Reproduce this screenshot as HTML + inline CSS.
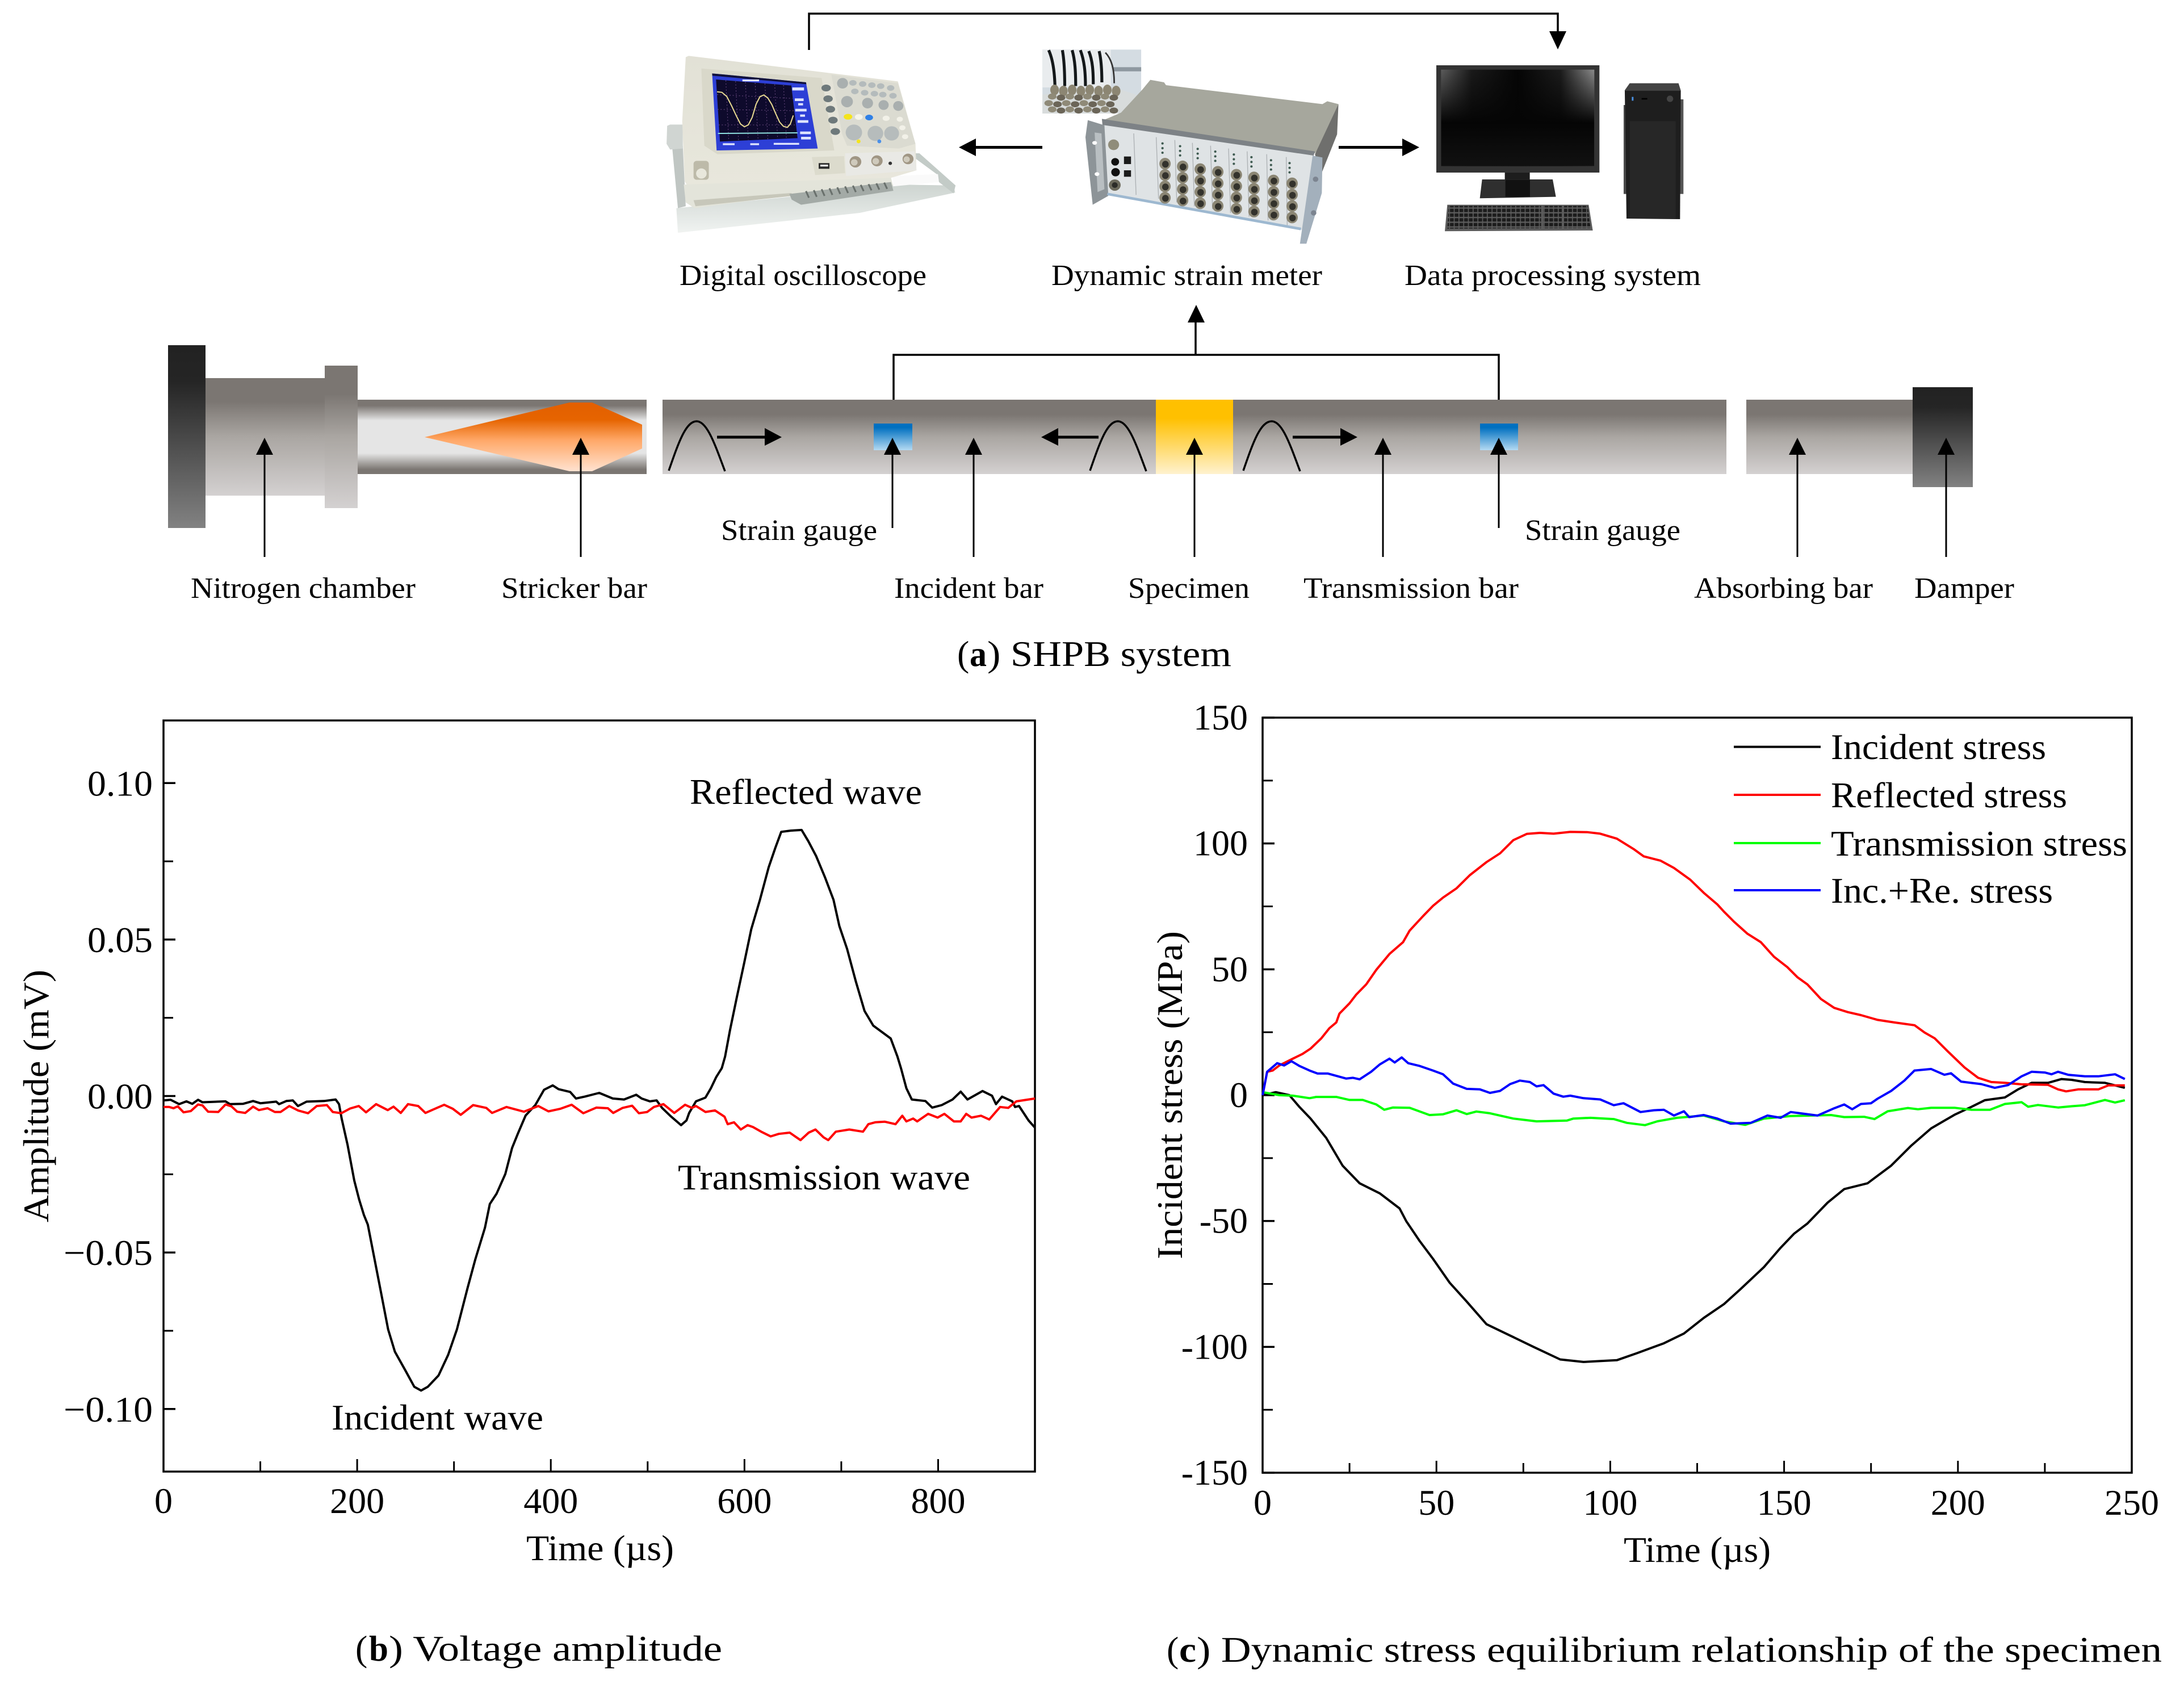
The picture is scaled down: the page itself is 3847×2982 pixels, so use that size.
<!DOCTYPE html>
<html lang="en">
<head>
<meta charset="utf-8">
<title>SHPB system, voltage amplitude and dynamic stress equilibrium</title>
<style>
html,body{margin:0;padding:0;background:#fff;}
svg{display:block;}
text{font-family:"Liberation Serif","Times New Roman",serif;fill:#000;}
.sm{font-size:52px;}
.lg{font-size:64px;}
</style>
</head>
<body>
<svg id="figure" xmlns="http://www.w3.org/2000/svg" width="3847" height="2982" viewBox="0 0 3847 2982">
<defs>
<linearGradient id="barG" x1="0" y1="0" x2="0" y2="1"><stop offset="0" stop-color="#7b7672"/><stop offset=".2" stop-color="#7b7672"/><stop offset=".5" stop-color="#aaa6a2"/><stop offset="1" stop-color="#d4d1d1"/></linearGradient>
<linearGradient id="tubeG" x1="0" y1="0" x2="0" y2="1"><stop offset="0" stop-color="#7b7672"/><stop offset=".08" stop-color="#7b7672"/><stop offset=".28" stop-color="#e5e5e5"/><stop offset=".72" stop-color="#e5e5e5"/><stop offset=".94" stop-color="#7b7672"/><stop offset="1" stop-color="#7b7672"/></linearGradient>
<linearGradient id="darkG" x1="0" y1="0" x2="0" y2="1"><stop offset="0" stop-color="#222"/><stop offset=".2" stop-color="#252525"/><stop offset="1" stop-color="#828282"/></linearGradient>
<linearGradient id="orangeG" x1="0" y1="0" x2="0" y2="1"><stop offset="0" stop-color="#e35f00"/><stop offset=".25" stop-color="#e66400"/><stop offset=".55" stop-color="#ffa868"/><stop offset="1" stop-color="#ffe2d0"/></linearGradient>
<linearGradient id="specG" x1="0" y1="0" x2="0" y2="1"><stop offset="0" stop-color="#ffc000"/><stop offset=".25" stop-color="#ffc000"/><stop offset="1" stop-color="#fff2cf"/></linearGradient>
<linearGradient id="gaugeG" x1="0" y1="0" x2="0" y2="1"><stop offset="0" stop-color="#0070c0"/><stop offset=".15" stop-color="#0070c0"/><stop offset="1" stop-color="#b4daf2"/></linearGradient>
<linearGradient id="screenG" x1="0" y1="0" x2="1" y2="0"><stop offset="0" stop-color="#5c5c5c"/><stop offset=".2" stop-color="#1a1a1a"/><stop offset=".5" stop-color="#050505"/><stop offset=".78" stop-color="#1c1c1c"/><stop offset="1" stop-color="#8a8a8a"/></linearGradient>
<linearGradient id="screenFade" x1="0" y1="0" x2="0" y2="1"><stop offset="0" stop-color="#050505" stop-opacity="0"/><stop offset=".55" stop-color="#050505" stop-opacity="1"/><stop offset="1" stop-color="#111" stop-opacity="1"/></linearGradient>
<linearGradient id="trayG" x1="0" y1="0" x2="0" y2="1"><stop offset="0" stop-color="#cdd4d0"/><stop offset="1" stop-color="#f0f3f1"/></linearGradient>
<linearGradient id="bodyG" x1="0" y1="0" x2="0" y2="1"><stop offset="0" stop-color="#e2e1d6"/><stop offset="1" stop-color="#e8e7dc"/></linearGradient>
<pattern id="keysP" width="25" height="25" patternUnits="userSpaceOnUse"><rect width="25" height="25" fill="#5a5a5a"/><rect x="2" y="3" width="20" height="18" rx="3" fill="#1c1c1c"/></pattern>
</defs>

<!-- Oscilloscope -->
<g transform="translate(1170,80) scale(0.3444,0.3333)">
  <polygon points="70,990 62,860 640,800 1170,735 1480,740 1488,778 1000,885" fill="url(#trayG)"/>
  <polygon points="1285,570 1305,570 1490,740 1480,782 1405,722 1400,685 1288,600" fill="#c3cbc7"/>
  <polygon points="1170,690 1400,680 1405,722 1170,745" fill="#fafafa"/>
  <polygon points="40,530 95,530 110,850 70,860" fill="#c0c6c3"/>
  <polygon points="15,425 30,418 95,418 95,545 30,550 12,520" fill="#d0d5d2"/>
  <polygon points="110,62 125,55 1195,190 1285,520 1290,660 1160,700 1100,722 122,745 105,720 92,400" fill="url(#bodyG)"/>
  <polygon points="100,735 1160,700 1170,740 660,790 155,860 110,830" fill="#e3e4da"/>
  <polygon points="150,818 650,780 660,795 160,850" fill="#c7c7ba"/>
  <polygon points="190,122 805,172 870,555 272,575 205,530" fill="#d9d8ca"/>
  <polygon points="245,148 725,195 785,545 268,555" fill="#2d3fd6"/>
  <polygon points="245,148 725,195 727,205 246,160" fill="#11113a"/>
  <polygon points="265,180 650,212 682,490 285,508" fill="#0e0a2c"/>
  <g stroke="#6a4a80" stroke-width="3" fill="none" stroke-dasharray="6 10">
    <line x1="315" y1="185" x2="330" y2="505"/><line x1="365" y1="190" x2="380" y2="503"/><line x1="415" y1="194" x2="430" y2="500"/><line x1="465" y1="198" x2="480" y2="498"/><line x1="515" y1="202" x2="530" y2="496"/><line x1="565" y1="206" x2="580" y2="494"/><line x1="610" y1="210" x2="625" y2="492"/>
    <line x1="270" y1="260" x2="655" y2="280"/><line x1="272" y1="338" x2="662" y2="345"/><line x1="278" y1="420" x2="672" y2="420"/>
  </g>
  <polyline points="270,245 295,248 320,270 345,320 370,375 390,415 410,430 430,420 450,380 470,310 490,270 510,262 530,278 550,312 570,360 590,405 610,428 630,433 645,415 660,370" fill="none" stroke="#e6d890" stroke-width="6"/>
  <line x1="275" y1="465" x2="682" y2="462" stroke="#8fe2e0" stroke-width="6"/>
  <g fill="#dfe4ff"><rect x="655" y="222" width="60" height="16"/><rect x="668" y="280" width="45" height="14"/><rect x="685" y="305" width="25" height="12"/><rect x="670" y="335" width="58" height="14"/><rect x="695" y="365" width="25" height="12"/><rect x="682" y="395" width="55" height="14"/><rect x="695" y="455" width="55" height="14"/><rect x="700" y="483" width="50" height="14"/><rect x="400" y="180" width="85" height="10"/><rect x="300" y="517" width="60" height="10"/><rect x="440" y="517" width="45" height="10"/><rect x="560" y="515" width="130" height="10"/></g>
  <polygon points="855,155 1195,200 1285,520 1200,545 935,530 910,470" fill="#dbdbd1"/>
  <g fill="#b4bbbc"><ellipse cx="965" cy="198" rx="19" ry="15"/><ellipse cx="1015" cy="204" rx="19" ry="15"/><ellipse cx="1062" cy="210" rx="19" ry="15"/><ellipse cx="1107" cy="215" rx="19" ry="15"/><ellipse cx="1158" cy="225" rx="19" ry="15"/><ellipse cx="975" cy="243" rx="19" ry="15"/><ellipse cx="1025" cy="250" rx="19" ry="15"/><ellipse cx="1075" cy="255" rx="19" ry="15"/><ellipse cx="1118" cy="260" rx="19" ry="15"/><ellipse cx="1170" cy="266" rx="19" ry="15"/></g>
  <g fill="#a9afaf"><circle cx="912" cy="200" r="28"/><circle cx="935" cy="297" r="30"/><circle cx="1040" cy="305" r="28"/><circle cx="1122" cy="315" r="26"/><circle cx="1197" cy="320" r="26"/></g>
  <g fill="#b6bcbc"><circle cx="970" cy="460" r="42"/><circle cx="1080" cy="465" r="40"/><circle cx="1163" cy="465" r="38"/></g>
  <ellipse cx="940" cy="377" rx="22" ry="15" fill="#f4e41c"/>
  <ellipse cx="995" cy="378" rx="20" ry="15" fill="#f5f4ea"/>
  <ellipse cx="1048" cy="381" rx="20" ry="15" fill="#2f80e6"/>
  <g fill="#f2f1e8"><ellipse cx="1135" cy="385" rx="18" ry="14"/><ellipse cx="1205" cy="390" rx="16" ry="13"/><ellipse cx="1218" cy="435" rx="16" ry="13"/><ellipse cx="1232" cy="482" rx="16" ry="13"/></g>
  <circle cx="994" cy="507" r="10" fill="#f4e41c"/><circle cx="1100" cy="507" r="10" fill="#4a90e8"/>
  <g fill="#6e797b"><ellipse cx="828" cy="225" rx="24" ry="18"/><ellipse cx="838" cy="282" rx="24" ry="18"/><ellipse cx="850" cy="337" rx="24" ry="18"/><ellipse cx="863" cy="395" rx="24" ry="18"/><ellipse cx="875" cy="455" rx="24" ry="18"/></g>
  <polygon points="925,570 1280,560 1290,660 930,690" fill="#e9e9e5"/>
  <polygon points="755,590 920,585 925,675 772,685" fill="#dcdbcd"/>
  <rect x="790" y="622" width="55" height="30" fill="#2a2a2a"/><rect x="798" y="630" width="40" height="10" fill="#eee"/>
  <g fill="#a09684"><circle cx="978" cy="615" r="30"/><circle cx="1088" cy="610" r="29"/><circle cx="1247" cy="600" r="28"/></g>
  <g fill="#cfcabc"><circle cx="972" cy="618" r="17"/><circle cx="1082" cy="612" r="17"/><circle cx="1240" cy="602" r="16"/></g>
  <circle cx="1156" cy="623" r="9" fill="#333"/>
  <rect x="150" y="610" width="78" height="100" rx="16" fill="#bdbaa9"/><circle cx="190" cy="677" r="27" fill="#e8e7dc"/>
  <polygon points="640,785 1160,722 1172,768 700,842 652,815" fill="#a3aaa6"/>
  <g stroke="#69706c" stroke-width="9">
    <line x1="725" y1="770" x2="740" y2="805"/><line x1="765" y1="765" x2="780" y2="800"/><line x1="805" y1="760" x2="820" y2="795"/><line x1="845" y1="755" x2="860" y2="790"/><line x1="885" y1="750" x2="900" y2="785"/><line x1="925" y1="745" x2="940" y2="780"/><line x1="965" y1="741" x2="980" y2="775"/><line x1="1005" y1="737" x2="1020" y2="770"/><line x1="1045" y1="733" x2="1060" y2="766"/><line x1="1085" y1="729" x2="1100" y2="762"/><line x1="1125" y1="725" x2="1140" y2="758"/>
  </g>
</g>

<!-- Dynamic strain meter -->
<g transform="translate(1830,70) scale(0.3444,0.3333)">
  <g>
    <rect x="18" y="52" width="505" height="338" fill="#d4dce2"/>
    <rect x="18" y="52" width="350" height="200" fill="#e9ecee"/>
    <rect x="380" y="145" width="143" height="22" fill="#8e98a0"/>
    <g fill="none" stroke="#14181a" stroke-width="15">
      <path d="M50,55 C70,100 80,170 82,245"/><path d="M120,55 C130,110 132,170 132,245"/><path d="M170,55 C185,110 188,170 188,245"/><path d="M212,55 C232,110 238,170 238,245"/><path d="M255,60 C275,110 278,170 278,235"/><path d="M308,60 C320,110 322,170 322,225"/>
    </g>
    <path d="M340,68 C370,100 385,150 385,230" fill="none" stroke="#333" stroke-width="8"/>
    <polygon points="18,290 380,250 523,300 523,390 18,390" fill="#d8dcdc"/>
    <g id="inset-connectors"></g>
  </g>
  <polygon points="330,425 420,385 530,262 570,212 640,225 650,240 1450,340 1475,325 1532,340 1505,470 1412,600" fill="#a6a79d"/>
  <polygon points="1412,605 1532,340 1525,500 1440,720" fill="#6f6f6d"/>
  <polygon points="325,440 1405,605 1372,1010 350,820" fill="#dfe3e5"/>
  <polygon points="322,418 1412,590 1405,612 325,450" fill="#7d8286"/>
  <polygon points="250,425 335,452 355,825 275,872 238,515" fill="#8d9498"/>
  <polygon points="285,490 320,495 335,790 300,805" fill="#b9bfc2"/>
  <ellipse cx="285" cy="545" rx="12" ry="10" fill="#fff"/><ellipse cx="297" cy="710" rx="12" ry="10" fill="#fff"/>
  <polygon points="1400,612 1450,622 1447,810 1368,1078 1335,1078" fill="#a3b0bc"/>
  <circle cx="1415" cy="737" r="14" fill="#7c8490"/><circle cx="1405" cy="915" r="14" fill="#7c8490"/>
  <line x1="350" y1="815" x2="1340" y2="1000" stroke="#9db8d0" stroke-width="14"/>
  <g stroke="#aeb2b5" stroke-width="4">
    <line x1="485" y1="495" x2="497" y2="820"/><line x1="600" y1="515" x2="612" y2="840"/><line x1="695" y1="530" x2="705" y2="860"/><line x1="785" y1="545" x2="795" y2="880"/><line x1="878" y1="560" x2="888" y2="895"/><line x1="970" y1="575" x2="980" y2="915"/><line x1="1065" y1="590" x2="1075" y2="935"/><line x1="1165" y1="605" x2="1172" y2="955"/><line x1="1265" y1="620" x2="1270" y2="980"/>
  </g>
  <circle cx="382" cy="555" r="28" fill="#8f8c7a"/>
  <circle cx="390" cy="645" r="20" fill="#111"/><circle cx="392" cy="700" r="22" fill="#111"/>
  <rect x="435" y="617" width="36" height="40" fill="#1b1b1b"/><rect x="435" y="690" width="36" height="34" fill="#1b1b1b"/>
  <circle cx="388" cy="768" r="30" fill="#6c6a5c"/><circle cx="388" cy="768" r="15" fill="#2c2c28"/>
  <g id="connector-grid"></g>
</g>

<!-- Computer -->
<g transform="translate(2520,100) scale(0.3333)">
  <rect x="30" y="45" width="862" height="567" fill="#333"/>
  <rect x="55" y="68" width="810" height="510" fill="url(#screenG)"/>
  <rect x="55" y="68" width="810" height="510" fill="url(#screenFade)"/>
  <rect x="392" y="612" width="132" height="50" fill="#1d1d1d"/>
  <polygon points="272,648 645,648 662,740 260,748" fill="#2f2f2f"/>
  <rect x="395" y="650" width="130" height="90" fill="#111"/>
  <polygon points="88,782 835,782 857,918 75,922" fill="#5c5c5c"/>
  <polygon points="95,788 830,788 845,905 88,908" fill="url(#keysP)"/>
  <rect x="584" y="786" width="12" height="122" fill="#5c5c5c"/><rect x="693" y="786" width="12" height="122" fill="#5c5c5c"/>
  <polygon points="1025,178 1052,140 1310,140 1322,178" fill="#444"/>
  <rect x="1020" y="255" width="22" height="470" fill="#4a4a4a"/><rect x="1318" y="225" width="18" height="500" fill="#555"/>
  <polygon points="1026,178 1322,178 1318,858 1035,855" fill="#1e1e1e"/>
  <rect x="1052" y="340" width="243" height="515" fill="#272727"/>
  <rect x="1063" y="212" width="9" height="20" fill="#4a90e0"/>
  <rect x="1115" y="218" width="30" height="8" fill="#000"/><circle cx="1265" cy="222" r="17" fill="#444"/>
</g>

<!-- Top signal path -->
<g fill="none" stroke="#000" stroke-width="3.5">
  <polyline points="1425,88 1425,24 2744,24 2744,60"/>
  <polyline points="1574,746 1574,625 2640,625 2640,746"/>
  <line x1="2106" y1="625" x2="2106" y2="560"/>
</g>
<polygon points="2729,55 2759,55 2744,87"/>
<polygon points="2092,568 2122,568 2107,537"/>
<g><line x1="1715" y1="259.5" x2="1836" y2="259.5" stroke="#000" stroke-width="5"/><polygon points="1689,259.5 1719,244 1719,275"/></g>
<g><line x1="2358" y1="259.5" x2="2475" y2="259.5" stroke="#000" stroke-width="5"/><polygon points="2500,259.5 2470,244 2470,275"/></g>

<!-- SHPB apparatus -->
<rect x="629" y="704" width="510" height="131" fill="url(#tubeG)"/>
<polygon points="748,770 1003,709 1043,709 1131,748 1131,790 1043,830 1003,830" fill="url(#orangeG)"/>
<rect x="362" y="666" width="211" height="207" fill="url(#barG)"/>
<rect x="572" y="644" width="58" height="251" fill="url(#barG)"/>
<rect x="296" y="608" width="66" height="322" fill="url(#darkG)"/>
<rect x="1167" y="704" width="870" height="131" fill="url(#barG)"/>
<rect x="2172" y="704" width="869" height="131" fill="url(#barG)"/>
<rect x="2036" y="704" width="136" height="131" fill="url(#specG)"/>
<rect x="3076" y="704" width="294" height="131" fill="url(#barG)"/>
<rect x="3369" y="682" width="106" height="176" fill="url(#darkG)"/>
<rect x="1539" y="746" width="68" height="47" fill="url(#gaugeG)"/>
<rect x="2607" y="746" width="67" height="47" fill="url(#gaugeG)"/>

<g fill="none" stroke="#000" stroke-width="3.5">
  <path d="M1178,829 C1195,780 1208,742 1227,742 C1246,742 1260,785 1277,830"/>
  <path d="M1920,829 C1937,780 1950,742 1969,742 C1988,742 2002,785 2019,830"/>
  <path d="M2190,829 C2207,780 2220,742 2240,742 C2259,742 2273,785 2290,830"/>
</g>
<g>
  <line x1="1263" y1="770" x2="1350" y2="770" stroke="#000" stroke-width="5"/><polygon points="1377,770 1347,754 1347,785"/>
  <line x1="1860" y1="770" x2="1935" y2="770" stroke="#000" stroke-width="5"/><polygon points="1834,770 1864,754 1864,785"/>
  <line x1="2277" y1="770" x2="2365" y2="770" stroke="#000" stroke-width="5"/><polygon points="2391,770 2361,754 2361,785"/>
</g>
<g stroke="#000" stroke-width="3">
  <g><line x1="466" y1="795" x2="466" y2="981"/><polygon stroke="none" points="466,771 451,801 481,801"/></g>
  <g><line x1="1023" y1="795" x2="1023" y2="981"/><polygon stroke="none" points="1023,771 1008,801 1038,801"/></g>
  <g><line x1="1572" y1="795" x2="1572" y2="930"/><polygon stroke="none" points="1572,771 1557,801 1587,801"/></g>
  <g><line x1="1715" y1="795" x2="1715" y2="981"/><polygon stroke="none" points="1715,771 1700,801 1730,801"/></g>
  <g><line x1="2104" y1="795" x2="2104" y2="981"/><polygon stroke="none" points="2104,771 2089,801 2119,801"/></g>
  <g><line x1="2436" y1="795" x2="2436" y2="981"/><polygon stroke="none" points="2436,771 2421,801 2451,801"/></g>
  <g><line x1="2640" y1="795" x2="2640" y2="930"/><polygon stroke="none" points="2640,771 2625,801 2655,801"/></g>
  <g><line x1="3166" y1="795" x2="3166" y2="981"/><polygon stroke="none" points="3166,771 3151,801 3181,801"/></g>
  <g><line x1="3428" y1="795" x2="3428" y2="981"/><polygon stroke="none" points="3428,771 3413,801 3443,801"/></g>
</g>

<!-- Top labels -->
<text class="sm" x="1197" y="502" textLength="435" lengthAdjust="spacingAndGlyphs">Digital oscilloscope</text>
<text class="sm" x="1852" y="502" textLength="477" lengthAdjust="spacingAndGlyphs">Dynamic strain meter</text>
<text class="sm" x="2474" y="502" textLength="522" lengthAdjust="spacingAndGlyphs">Data processing system</text>
<text class="sm" x="1270" y="951" textLength="275" lengthAdjust="spacingAndGlyphs">Strain gauge</text>
<text class="sm" x="2686" y="951" textLength="274" lengthAdjust="spacingAndGlyphs">Strain gauge</text>
<text class="sm" x="336" y="1053" textLength="396" lengthAdjust="spacingAndGlyphs">Nitrogen chamber</text>
<text class="sm" x="883" y="1053" textLength="257" lengthAdjust="spacingAndGlyphs">Stricker bar</text>
<text class="sm" x="1575" y="1053" textLength="263" lengthAdjust="spacingAndGlyphs">Incident bar</text>
<text class="sm" x="1987" y="1053" textLength="214" lengthAdjust="spacingAndGlyphs">Specimen</text>
<text class="sm" x="2296" y="1053" textLength="379" lengthAdjust="spacingAndGlyphs">Transmission bar</text>
<text class="sm" x="2984" y="1053" textLength="315" lengthAdjust="spacingAndGlyphs">Absorbing bar</text>
<text class="sm" x="3372" y="1053" textLength="176" lengthAdjust="spacingAndGlyphs">Damper</text>
<g>
  <text class="lg" x="1686" y="1173">(</text>
  <text class="lg" x="1708" y="1173" font-weight="bold" textLength="30" lengthAdjust="spacingAndGlyphs">a</text>
  <text class="lg" x="1739" y="1173" textLength="430" lengthAdjust="spacingAndGlyphs">) SHPB system</text>
</g>

<!-- Chart groups -->
<g id="chart-b"></g>
<g id="chart-c"></g>

<!-- Left chart annotations -->
<text class="lg" transform="translate(85,2153) rotate(-90)" textLength="445" lengthAdjust="spacingAndGlyphs">Amplitude (mV)</text>
<text class="lg" x="927" y="2748" textLength="260" lengthAdjust="spacingAndGlyphs">Time (µs)</text>
<text class="lg" x="1215" y="1416" textLength="409" lengthAdjust="spacingAndGlyphs">Reflected wave</text>
<text class="lg" x="1194" y="2095" textLength="515" lengthAdjust="spacingAndGlyphs">Transmission wave</text>
<text class="lg" x="584" y="2518" textLength="373" lengthAdjust="spacingAndGlyphs">Incident wave</text>
<g>
  <text class="lg" x="626" y="2925">(</text>
  <text class="lg" x="650" y="2925" font-weight="bold" textLength="34" lengthAdjust="spacingAndGlyphs">b</text>
  <text class="lg" x="685" y="2925" textLength="587" lengthAdjust="spacingAndGlyphs">) Voltage amplitude</text>
</g>

<!-- Right chart annotations -->
<text class="lg" transform="translate(2082,2218) rotate(-90)" textLength="578" lengthAdjust="spacingAndGlyphs">Incident stress (MPa)</text>
<text class="lg" x="2860" y="2751" textLength="259" lengthAdjust="spacingAndGlyphs">Time (µs)</text>
<g>
  <g><line x1="3054" y1="1315.5" x2="3207" y2="1315.5" stroke="#000" stroke-width="4"/><text class="lg" x="3225" y="1337" textLength="379" lengthAdjust="spacingAndGlyphs">Incident stress</text></g>
  <g><line x1="3054" y1="1400" x2="3207" y2="1400" stroke="#f00" stroke-width="4"/><text class="lg" x="3225" y="1422" textLength="416" lengthAdjust="spacingAndGlyphs">Reflected stress</text></g>
  <g><line x1="3054" y1="1485" x2="3207" y2="1485" stroke="#0f0" stroke-width="4"/><text class="lg" x="3225" y="1507" textLength="522" lengthAdjust="spacingAndGlyphs">Transmission stress</text></g>
  <g><line x1="3054" y1="1568" x2="3207" y2="1568" stroke="#00f" stroke-width="4"/><text class="lg" x="3225" y="1590" textLength="391" lengthAdjust="spacingAndGlyphs">Inc.+Re. stress</text></g>
</g>
<g>
  <text class="lg" x="2055" y="2927">(</text>
  <text class="lg" x="2077" y="2927" font-weight="bold" textLength="30" lengthAdjust="spacingAndGlyphs">c</text>
  <text class="lg" x="2108" y="2927" textLength="1700" lengthAdjust="spacingAndGlyphs">) Dynamic stress equilibrium relationship of the specimen</text>
</g>

<script>
// ---- Chart (b): voltage amplitude ----
const bXTicks = [0, 200, 400, 600, 800];
const bXMinorTicks = [100, 300, 500, 700];
const bYTicks = [0.10, 0.05, 0.00, -0.05, -0.10];
const bYTickLabels = ['0.10', '0.05', '0.00', '\u22120.05', '\u22120.10'];
const bYMinorTicks = [0.075, 0.025, -0.025, -0.075];
const voltageBlackTimes = [0,7.3,16.2,23.7,29.7,35.7,40.2,64.1,68.6,82,92.5,100,116.4,119.4,126.9,133.5,138.9,147.8,165.8,177.8,181.3,184,190,197,202,207,211,218,225,232,239,250,259,266,273,284,294,303,314,322,332,337,344,353,360,366,374,384,393,402,408,420,426,435,450,464,475.6,488.2,493.8,502.3,509.3,514.9,523.3,534.5,540.1,542.9,549.9,559.7,565.3,570.9,576.6,580,585,592,600,607,616,625,632,638,648,659,666,674,683,692,698,706,715,724,733,751,758,761.6,767.2,772.8,786.9,793.9,803.7,814.9,823.3,830.3,845.8,855.6,859.8,866,876.6,879.4,883.6,893.4,900];
const voltageBlackValues = [-.0014,-.0012,-.0026,-.0017,-.0025,-.0012,-.002,-.0017,-.0026,-.0025,-.0016,-.0023,-.0018,-.0026,-.0016,-.0014,-.0032,-.0018,-.0016,-.0011,-.0026,-.0072,-.0155,-.027,-.033,-.038,-.0411,-.0522,-.0634,-.0746,-.0817,-.0878,-.0929,-.0941,-.0929,-.0893,-.0827,-.0746,-.0614,-.0522,-.0421,-.0345,-.0312,-.0249,-.0166,-.012,-.0062,-.0029,.002,.0034,.0022,.0013,-.0008,-.0002,.001,-.0008,-.0011,.0004,-.0008,-.0017,-.0014,-.0038,-.0063,-.0093,-.0078,-.0054,-.0017,-.0005,.0025,.0061,.0089,.0126,.021,.0314,.0429,.0533,.0627,.0731,.0794,.0844,.0848,.085,.0814,.0767,.07,.0627,.0543,.047,.0366,.0272,.0225,.0184,.0126,.0089,.0025,-.0011,-.0016,-.0037,-.0029,-.0011,.0014,-.0011,.0016,.0001,-.0026,-.0002,-.0017,-.0035,-.0032,-.0078,-.0101];
const voltageRedTimes = [0,5.8,10.3,14.7,20.7,28.2,35.7,40.2,46.1,56.6,64.1,70.1,76.1,84.4,92.5,98.5,107.5,115,120.9,129.9,138.9,149.3,158.3,168.8,174.8,183.7,192.7,201.7,209.2,219.6,231.6,237.6,245,252.5,263,270.5,282.4,289.9,298.9,307,319.8,333.3,339.3,354.2,372.2,387.1,397.6,409.6,421.5,433.5,447,458.9,464.4,474.2,484,491,499.5,506.5,516.3,527.5,538.7,545.7,549.9,559.7,569.6,579.4,582.7,589.2,596.2,603.2,608.8,617.2,627,635.4,646.7,657.9,666.3,673.3,681.7,686.5,694.3,708.3,722.4,728,735,744.8,756,763,767.2,774.2,778.4,789.7,799.5,806.5,816.3,823.3,829,834.5,844.3,852.8,864,872.4,880.8,900];
const voltageRedValues = [-.0035,-.0035,-.0039,-.0033,-.0052,-.0048,-.0027,-.003,-.005,-.0051,-.0027,-.0033,-.005,-.0054,-.0034,-.0045,-.0039,-.0051,-.0051,-.0032,-.0046,-.0055,-.0032,-.0029,-.0051,-.0055,-.004,-.0032,-.0052,-.0026,-.0045,-.0034,-.0054,-.0026,-.0032,-.0054,-.0038,-.0028,-.0041,-.006,-.0029,-.0038,-.0054,-.0035,-.005,-.0032,-.0049,-.0041,-.0028,-.0055,-.0037,-.0039,-.0054,-.0038,-.0031,-.0055,-.0051,-.0035,-.0026,-.0054,-.0028,-.0038,-.0032,-.0051,-.0046,-.0066,-.009,-.0084,-.0107,-.0093,-.0099,-.0114,-.0129,-.0121,-.0117,-.0141,-.0117,-.0107,-.0132,-.0141,-.0114,-.0107,-.0114,-.009,-.0084,-.0082,-.009,-.0063,-.0081,-.0072,-.0081,-.0057,-.0069,-.0057,-.0081,-.0081,-.0057,-.0069,-.0063,-.0075,-.0035,-.0038,-.0017,-.0008];

// ---- Chart (c): dynamic stress equilibrium ----
const cXTicks = [0, 50, 100, 150, 200, 250];
const cXMinorTicks = [25, 75, 125, 175, 225];
const cYTicks = [150, 100, 50, 0, -50, -100, -150];
const cYMinorTicks = [125, 75, 25, -25, -75, -125];
const incidentTimes = [0,3.8,7.7,10.6,13.8,18.3,23,27.9,33.7,39.4,41.3,45.2,49,53.8,58.7,64.4,71.2,77.9,85.6,92.3,101.9,107.7,115.4,121.2,126.9,132.7,137.5,144.2,149,152.9,156.7,162.5,167.3,174,180.8,186.6,192.3,199,203.8,207.7,213.5,217.3,221.2,225.9,229.8,232.7,236.5,242.3,248];
const incidentValues = [0,1.2,0,-4.7,-9.3,-17,-28,-35,-39,-45,-50,-58,-65,-74.5,-82,-91,-95.5,-100,-105,-106,-105.3,-102.5,-98.6,-94.7,-88.5,-83,-77,-68.3,-60.6,-55,-51,-42.7,-37.3,-35,-28,-20,-13.2,-7.8,-4.7,-2,-.9,2.3,4.9,4.9,6.4,6.1,5.2,4.9,2.9];
const reflectedTimes = [0,1.3,2.9,4.8,8.7,11.5,13.8,16.9,19.2,21.2,22.1,25,26.9,29.8,32.7,36.5,40.4,42.3,46.2,49,51.9,55.8,59.6,64.4,68.3,72.1,76,79.8,83.7,88.5,93.3,97.1,101.9,106.7,109.6,114.4,118.3,123,126.9,130.8,132.7,135.6,139.4,143.3,147.1,150.9,153.8,156.7,160.6,164.4,168.3,172.1,176.9,181.7,187.5,190.4,193.3,197.1,201.9,205.8,209.6,213.5,218.3,225.9,228.8,231.1,234.6,240.4,243.3,248];
const reflectedValues = [0,9.3,9.8,11.8,14.5,16.4,18.5,22.6,26.6,28.9,32.4,36.5,39.9,44,49.8,56.1,60.8,65.4,71.2,75.2,78.5,82.2,87.4,92.6,96.1,101.3,103.8,104.2,103.9,104.6,104.5,103.9,101.9,97.8,94.9,93.2,90.3,85.6,80.4,75.8,72.9,68.9,64.2,60.8,55,50.9,46.9,44,38.2,34.7,33,31.8,29.9,28.9,27.8,24.9,22.6,17.4,11,6.9,5.2,4.9,4.3,4.1,2.3,1.5,2.3,2.3,3.9,3.9];
const transmissionTimes = [0,4.8,8.7,13.5,15.4,21.2,25,28.8,32.7,35,37.5,42.3,48,51.9,55.8,58.7,61.5,65.4,72.1,78.8,87.5,89.4,94.3,101,104.8,110,113.5,119.2,126.9,132.7,138.8,144.2,151.9,163.5,167.3,173,176,179.8,185.6,188.5,192.3,199,203.8,209.2,213.5,218.3,220.2,223,228.8,232.7,236.5,242.3,245.2,248];
const transmissionValues = [1.2,0,-.2,-1.2,-.7,-.7,-1.9,-1.9,-3.7,-5.8,-4.9,-5,-7.9,-7.6,-6,-7.5,-6.5,-7.2,-9.3,-10.4,-10.1,-9.3,-9,-9.5,-11,-11.9,-10.4,-9,-8.1,-10.4,-11.8,-9.3,-8.3,-7.9,-8.7,-8.6,-9.5,-6.4,-5.1,-5.6,-5,-5,-5.8,-5.8,-3.5,-2.8,-4.6,-3.9,-4.9,-4.4,-4,-1.9,-2.9,-2];
const incReTimes = [0,1.3,4.2,6.2,8.3,10.6,13.5,15.8,18.8,21.7,24,26,27.9,31.2,33.7,36.5,38,40,41.9,45.2,49,51.9,54.8,58.7,62.5,65.4,68.3,71.2,74,76.9,78.8,80.8,83.7,86.5,88.5,92.3,97.1,101,103.8,108.7,112.5,115.4,118.3,121.2,122.7,126.9,130.8,134.6,140.4,145.2,149,151.9,159.6,164.4,167.3,169.6,172.1,175,176.9,180.8,184.6,187.5,192.3,196.1,198,200.9,206.7,210.6,214.4,218.3,221.2,225,226.9,228.8,231.7,236.5,240.4,245.2,248];
const incReValues = [0,9.3,12.7,11.8,13.5,11.6,9.8,8.6,8.6,7.5,6.6,6.9,6.3,9.3,12.2,14.5,13,15,12.7,11.6,9.8,8.3,4.6,2.5,2.3,.9,1.7,4.4,5.8,5.2,3.5,4,.6,-.6,-.2,-1.2,-1.7,-4,-3.2,-6.7,-6,-5.8,-8.1,-6.4,-8.7,-7.9,-9.3,-11.3,-11,-8.1,-9,-6.7,-8.1,-5.2,-3.7,-5.6,-3.5,-3.2,-1.4,1.7,5.8,9.8,10.4,8.1,8.7,5.4,4.4,2.9,4,7.5,9.3,9,8.3,9.3,8.1,7.5,7.5,8.3,6.4];

const SVGNS = 'http://www.w3.org/2000/svg';
function mk(parent, tag) {
  const el = document.createElementNS(SVGNS, tag);
  parent.appendChild(el);
  return el;
}
function addLine(parent, x1, y1, x2, y2, w) {
  const el = mk(parent, 'line');
  el.setAttribute('x1', x1);
  el.setAttribute('y1', y1);
  el.setAttribute('x2', x2);
  el.setAttribute('y2', y2);
  el.setAttribute('stroke', '#000');
  el.setAttribute('stroke-width', w);
  return el;
}
function addText(parent, x, y, anchor, str) {
  const el = mk(parent, 'text');
  el.setAttribute('x', x);
  el.setAttribute('y', y);
  el.setAttribute('text-anchor', anchor);
  el.setAttribute('class', 'lg');
  el.textContent = str;
  return el;
}
function addSeries(parent, xs, ys, sx, sy, color, w) {
  const el = mk(parent, 'polyline');
  el.setAttribute('points', xs.map(function (t, i) { return sx(t).toFixed(1) + ',' + sy(ys[i]).toFixed(1); }).join(' '));
  el.setAttribute('fill', 'none');
  el.setAttribute('stroke', color);
  el.setAttribute('stroke-width', w);
  el.setAttribute('stroke-linejoin', 'round');
  return el;
}

// Chart (b) axes
const bX = function (t) { return 288 + t * (1823 - 288) / 900; };
const bY = function (v) { return 1930.5 - v * (2592 - 1269) / 0.24; };
const chartB = document.getElementById('chart-b');
const bFrame = mk(chartB, 'rect');


bFrame.setAttribute('x', bX(0));
bFrame.setAttribute('y', bY(0.12));
bFrame.setAttribute('width', bX(900) - bX(0));
bFrame.setAttribute('height', bY(-0.12) - bY(0.12));
bFrame.setAttribute('fill', 'none');
bFrame.setAttribute('stroke', '#000');
bFrame.setAttribute('stroke-width', '3.5');
bXTicks.forEach(function (t) {
  const tick = addLine(chartB, bX(t), bY(-0.12), bX(t), bY(-0.12) - 22, 3);
  
  
  const label = addText(chartB, bX(t), 2665, 'middle', String(t));
  
  
});
bXMinorTicks.forEach(function (t) {
  const tick = addLine(chartB, bX(t), bY(-0.12), bX(t), bY(-0.12) - 18, 3);
  
  
});
bYTicks.forEach(function (v, i) {
  const tick = addLine(chartB, bX(0), bY(v), bX(0) + 21, bY(v), 3.5);
  
  
  const label = addText(chartB, 269, bY(v) + 22, 'end', bYTickLabels[i]);
  
  
  label.setAttribute('textLength', v < 0 ? 157 : 115);
  label.setAttribute('lengthAdjust', 'spacingAndGlyphs');
});
bYMinorTicks.forEach(function (v) {
  const tick = addLine(chartB, bX(0), bY(v), bX(0) + 17, bY(v), 3);
  
  
});
const bBlack = addSeries(chartB, voltageBlackTimes, voltageBlackValues, bX, bY, '#000', 4);


const bRed = addSeries(chartB, voltageRedTimes, voltageRedValues, bX, bY, '#f00', 4);



// Chart (c) axes
const cX = function (t) { return 2224 + t * (3755 - 2224) / 250; };
const cY = function (v) { return 1929 - v * (2594 - 1264) / 300; };
const chartC = document.getElementById('chart-c');
const cFrame = mk(chartC, 'rect');


cFrame.setAttribute('x', cX(0));
cFrame.setAttribute('y', cY(150));
cFrame.setAttribute('width', cX(250) - cX(0));
cFrame.setAttribute('height', cY(-150) - cY(150));
cFrame.setAttribute('fill', 'none');
cFrame.setAttribute('stroke', '#000');
cFrame.setAttribute('stroke-width', '3.5');
cXTicks.forEach(function (t) {
  const tick = addLine(chartC, cX(t), cY(-150), cX(t), cY(-150) - 21, 3);
  
  
  const label = addText(chartC, cX(t), 2668, 'middle', String(t));
  
  
});
cXMinorTicks.forEach(function (t) {
  const tick = addLine(chartC, cX(t), cY(-150), cX(t), cY(-150) - 17, 3);
  
  
});
cYTicks.forEach(function (v) {
  const tick = addLine(chartC, cX(0), cY(v), cX(0) + 21, cY(v), 3.5);
  
  
  const label = addText(chartC, 2198, cY(v) + 21, 'end', String(v));
  
  
});
cYMinorTicks.forEach(function (v) {
  const tick = addLine(chartC, cX(0), cY(v), cX(0) + 18, cY(v), 3);
  
  
});
const cInc = addSeries(chartC, incidentTimes, incidentValues, cX, cY, '#000', 4);


const cRef = addSeries(chartC, reflectedTimes, reflectedValues, cX, cY, '#f00', 4);


const cTra = addSeries(chartC, transmissionTimes, transmissionValues, cX, cY, '#0f0', 4);


const cSum = addSeries(chartC, incReTimes, incReValues, cX, cY, '#00f', 4);



// Strain meter front-panel connectors (decorative illustration)
const connectorColumns = [645, 735, 825, 915, 1010, 1100, 1200, 1295];
const connectorRowOffsets = [0, 60, 120, 180];
const grid = document.getElementById('connector-grid');
connectorColumns.forEach(function (cx) {
  const top = 655 + (cx - 645) * 0.16;
  connectorRowOffsets.forEach(function (dy) {
    const outer = mk(grid, 'ellipse');
    
    
    outer.setAttribute('cx', cx);
    outer.setAttribute('cy', top + dy);
    outer.setAttribute('rx', 29);
    outer.setAttribute('ry', 31);
    outer.setAttribute('fill', '#8b8674');
    const inner = mk(grid, 'ellipse');
    
    
    inner.setAttribute('cx', cx + 2);
    inner.setAttribute('cy', top + dy + 3);
    inner.setAttribute('rx', 17);
    inner.setAttribute('ry', 18);
    inner.setAttribute('fill', '#33322c');
  });
  [-107, -82, -58].forEach(function (off) {
    const led = mk(grid, 'circle');
    
    
    led.setAttribute('cx', cx - 13);
    led.setAttribute('cy', top + off);
    led.setAttribute('r', 6);
    led.setAttribute('fill', '#3e5a50');
  });
});

// Inset photo connectors (decorative illustration)
const insetXs = [50, 95, 140, 185, 230, 275, 320, 365];
const insetYs = [265, 300, 335, 368];
const insetGroup = document.getElementById('inset-connectors');
insetYs.forEach(function (iy, r) {
  insetXs.forEach(function (ix, c) {
    const dot = mk(insetGroup, 'ellipse');
    
    
    dot.setAttribute('cx', ix + (r % 2) * 18 + (r === 0 ? 30 : 0));
    dot.setAttribute('cy', iy + (c % 2) * 6);
    dot.setAttribute('rx', 22);
    dot.setAttribute('ry', r === 0 ? 28 : 16);
    dot.setAttribute('fill', r === 0 ? '#8c8673' : (c % 2 ? '#6b6558' : '#8f8a78'));
  });
});
</script>
</svg>
</body>
</html>
